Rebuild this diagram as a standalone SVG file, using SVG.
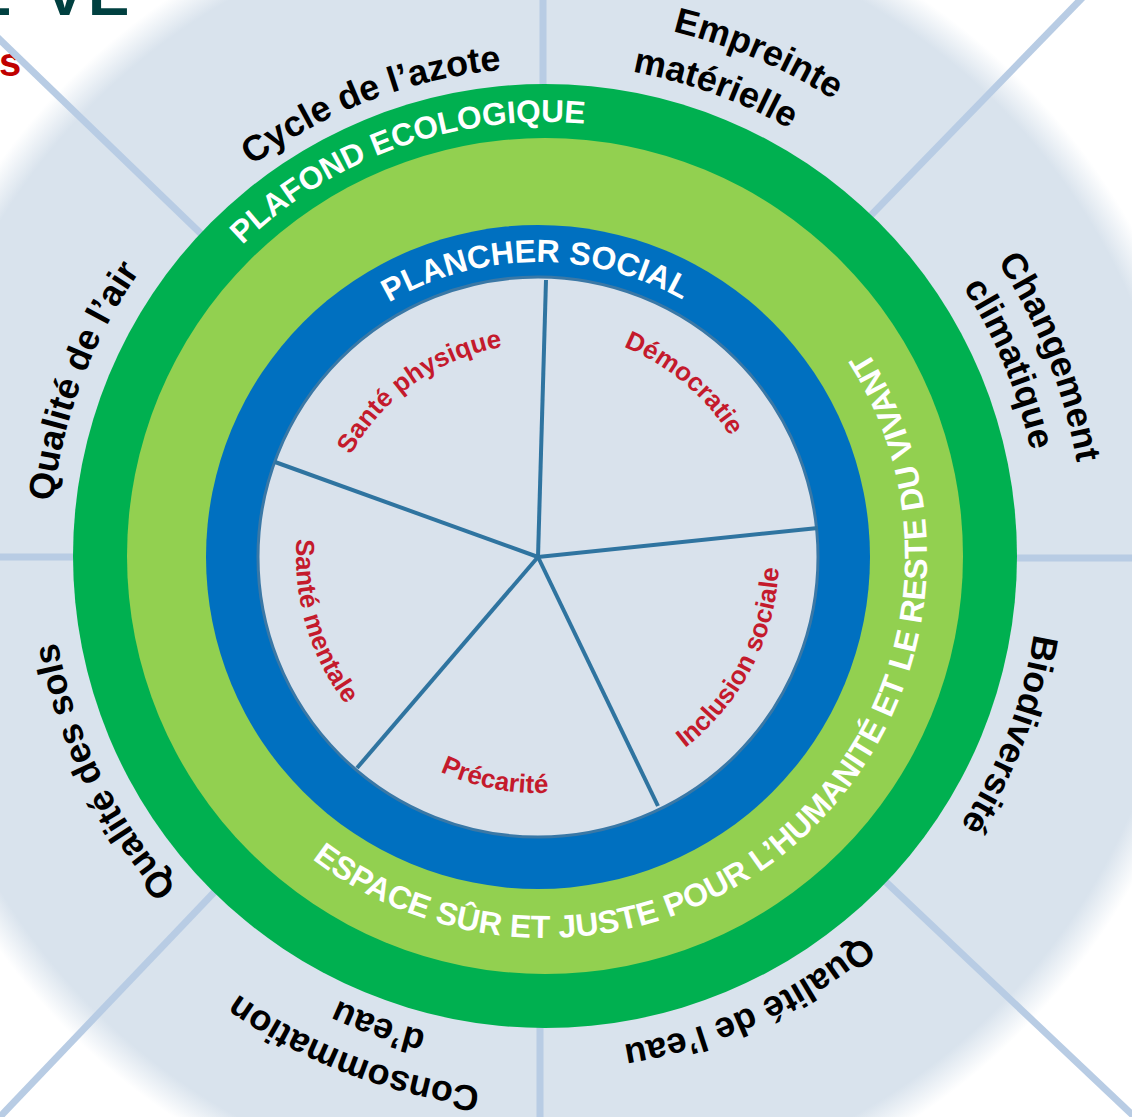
<svg xmlns="http://www.w3.org/2000/svg" xmlns:xlink="http://www.w3.org/1999/xlink" width="1132" height="1117" viewBox="0 0 1132 1117">
<style>
.lbl{font-family:"Liberation Sans",Arial,sans-serif;font-weight:bold;font-size:36px;fill:#000}
.ring{font-family:"Liberation Sans",Arial,sans-serif;font-weight:bold;font-size:32px;fill:#fff}
.inner{font-family:"Liberation Sans",Arial,sans-serif;font-weight:bold;font-size:26px;fill:#c41a2c}
.spoke{stroke:#b8cce4;stroke-width:7;fill:none}
.div{stroke:#2f74a0;stroke-width:4;fill:none}
</style>
<defs>
<radialGradient id="bg" gradientUnits="userSpaceOnUse" cx="545" cy="556" r="680">
<stop offset="0" stop-color="#d9e3ed"/>
<stop offset="0.94" stop-color="#d9e3ed"/>
<stop offset="0.99" stop-color="#ffffff"/>
<stop offset="1" stop-color="#ffffff"/>
</radialGradient>
<path id="cw488" d="M -84.74 480.59 A 488 488 0 1 1 84.74 480.59"/>
<path id="cw490" d="M -85.09 482.56 A 490 490 0 1 1 85.09 482.56"/>
<path id="cw492" d="M -85.44 484.53 A 492 492 0 1 1 85.44 484.53"/>
<path id="cw495" d="M -85.96 487.48 A 495 495 0 1 1 85.96 487.48"/>
<path id="cw497" d="M -86.31 489.45 A 497 497 0 1 1 86.31 489.45"/>
<path id="cw535" d="M -92.90 526.87 A 535 535 0 1 1 92.90 526.87"/>
<path id="cw540" d="M -93.77 531.80 A 540 540 0 1 1 93.77 531.80"/>
<path id="cw434" d="M -75.36 427.41 A 434 434 0 1 1 75.36 427.41"/>
<path id="cw295" d="M -51.23 290.52 A 295 295 0 1 1 51.23 290.52"/>
<path id="cw213" d="M -36.99 209.76 A 213 213 0 1 1 36.99 209.76"/>
<path id="cw227" d="M -39.42 223.55 A 227 227 0 1 1 39.42 223.55"/>
<path id="ccw382" d="M -66.33 -376.20 A 382 382 0 1 0 66.33 -376.20"/>
<path id="ccw241" d="M -41.85 -237.34 A 241 241 0 1 0 41.85 -237.34"/>
<path id="ccw236" d="M -40.98 -232.41 A 236 236 0 1 0 40.98 -232.41"/>
<path id="ccw242" d="M -42.02 -238.32 A 242 242 0 1 0 42.02 -238.32"/>
</defs>

<rect width="1132" height="1117" fill="#ffffff"/>
<g id="title">
<text x="-27 44 88" y="15" style="font-family:'Liberation Sans',Arial,sans-serif;font-weight:bold;font-size:62px;fill:#004040">LVE</text>
<text x="-1" y="76" style="font-family:'Liberation Sans',Arial,sans-serif;font-weight:bold;font-size:40px;fill:#c00000">s</text>
</g>
<circle id="background" cx="545" cy="556" r="680" fill="url(#bg)"/>

<g id="connectors">
<line class="spoke" x1="543" y1="556" x2="543" y2="-5"/>
<line class="spoke" x1="540" y1="556" x2="1085" y2="-5"/>
<line class="spoke" x1="545" y1="558" x2="1140" y2="558"/>
<line class="spoke" x1="541" y1="556" x2="1140" y2="1122"/>
<line class="spoke" x1="540" y1="556" x2="540" y2="1122"/>
<line class="spoke" x1="535" y1="556" x2="-5" y2="1122"/>
<line class="spoke" x1="545" y1="557" x2="-5" y2="557"/>
<line class="spoke" x1="535" y1="556" x2="-5" y2="35"/>
</g>

<g id="ceiling">
<circle cx="545" cy="556" r="472" fill="#00b050"/>
<text class="ring" style="font-size:31.5px" transform="translate(545,556) rotate(-19.5)"><textPath xlink:href="#cw434" startOffset="50%" text-anchor="middle">PLAFOND ECOLOGIQUE</textPath></text>
</g>
<g id="safe-space">
<circle cx="545" cy="556" r="418" fill="#92d050"/>
</g>
<g id="floor">
<circle cx="538" cy="557" r="332" fill="#0070c0"/>
<text class="ring" transform="translate(538,557) rotate(-0.5)"><textPath xlink:href="#cw295" startOffset="50%" text-anchor="middle">PLANCHER SOCIAL</textPath></text>
</g>
<g id="safe-space-label">
<text class="ring" transform="translate(545,556) rotate(-42.5)"><textPath xlink:href="#ccw382" startOffset="50%" text-anchor="middle">ESPACE SÛR ET JUSTE POUR L’HUMANITÉ ET LE RESTE DU VIVANT</textPath></text>
</g>
<g id="social-core">
<circle cx="538" cy="557" r="280" fill="#d9e2ec" stroke="#3a78a6" stroke-width="3"/>
</g>
<g id="social-dividers">
<line class="div" x1="538" y1="557" x2="546" y2="280"/>
<line class="div" x1="538" y1="557" x2="818" y2="528"/>
<line class="div" x1="538" y1="557" x2="658" y2="806"/>
<line class="div" x1="538" y1="557" x2="357" y2="768"/>
<line class="div" x1="538" y1="557" x2="275" y2="462"/>
</g>

<g id="sante-physique"><text class="inner" transform="translate(538,557) rotate(-35.5)"><textPath xlink:href="#cw213" startOffset="50%" text-anchor="middle">Santé physique</textPath></text></g>
<g id="democratie"><text class="inner" transform="translate(538,557) rotate(40)"><textPath xlink:href="#cw227" startOffset="50%" text-anchor="middle">Démocratie</textPath></text></g>
<g id="inclusion-sociale"><text class="inner" transform="translate(538,557) rotate(-62.5)"><textPath xlink:href="#ccw241" startOffset="50%" text-anchor="middle">Inclusion sociale</textPath></text></g>
<g id="precarite"><text class="inner" transform="translate(538,557) rotate(11)"><textPath xlink:href="#ccw236" startOffset="50%" text-anchor="middle">Précarité</textPath></text></g>
<g id="sante-mentale"><text class="inner" transform="translate(538,557) rotate(73.4)"><textPath xlink:href="#ccw242" startOffset="50%" text-anchor="middle">Santé mentale</textPath></text></g>

<g id="cycle-azote"><text class="lbl" transform="translate(545,556) rotate(-21)"><textPath xlink:href="#cw488" startOffset="50%" text-anchor="middle">Cycle de l’azote</textPath></text></g>
<g id="empreinte"><text class="lbl" transform="translate(545,556) rotate(23)"><textPath xlink:href="#cw540" startOffset="50%" text-anchor="middle">Empreinte</textPath></text>
<text class="lbl" transform="translate(545,556) rotate(20)"><textPath xlink:href="#cw492" startOffset="50%" text-anchor="middle">matérielle</textPath></text></g>
<g id="changement"><text class="lbl" transform="translate(545,556) rotate(68.5)"><textPath xlink:href="#cw540" startOffset="50%" text-anchor="middle">Changement</textPath></text>
<text class="lbl" transform="translate(545,556) rotate(67.5)"><textPath xlink:href="#cw497" startOffset="50%" text-anchor="middle">climatique</textPath></text></g>
<g id="biodiversite"><text class="lbl" transform="translate(545,556) rotate(111)"><textPath xlink:href="#cw495" startOffset="50%" text-anchor="middle">Biodiversité</textPath></text></g>
<g id="qualite-eau"><text class="lbl" transform="translate(545,556) rotate(155.5)"><textPath xlink:href="#cw495" startOffset="50%" text-anchor="middle">Qualité de l’eau</textPath></text></g>
<g id="consommation"><text class="lbl" transform="translate(545,556) rotate(201)"><textPath xlink:href="#cw535" startOffset="50%" text-anchor="middle">Consommation</textPath></text>
<text class="lbl" transform="translate(545,556) rotate(199.5)"><textPath xlink:href="#cw490" startOffset="50%" text-anchor="middle">d’eau</textPath></text></g>
<g id="qualite-sols"><text class="lbl" transform="translate(545,556) rotate(244)"><textPath xlink:href="#cw495" startOffset="50%" text-anchor="middle">Qualité des sols</textPath></text></g>
<g id="qualite-air"><text class="lbl" transform="translate(545,556) rotate(-69.3)"><textPath xlink:href="#cw495" startOffset="50%" text-anchor="middle">Qualité de l’air</textPath></text></g>
</svg>
